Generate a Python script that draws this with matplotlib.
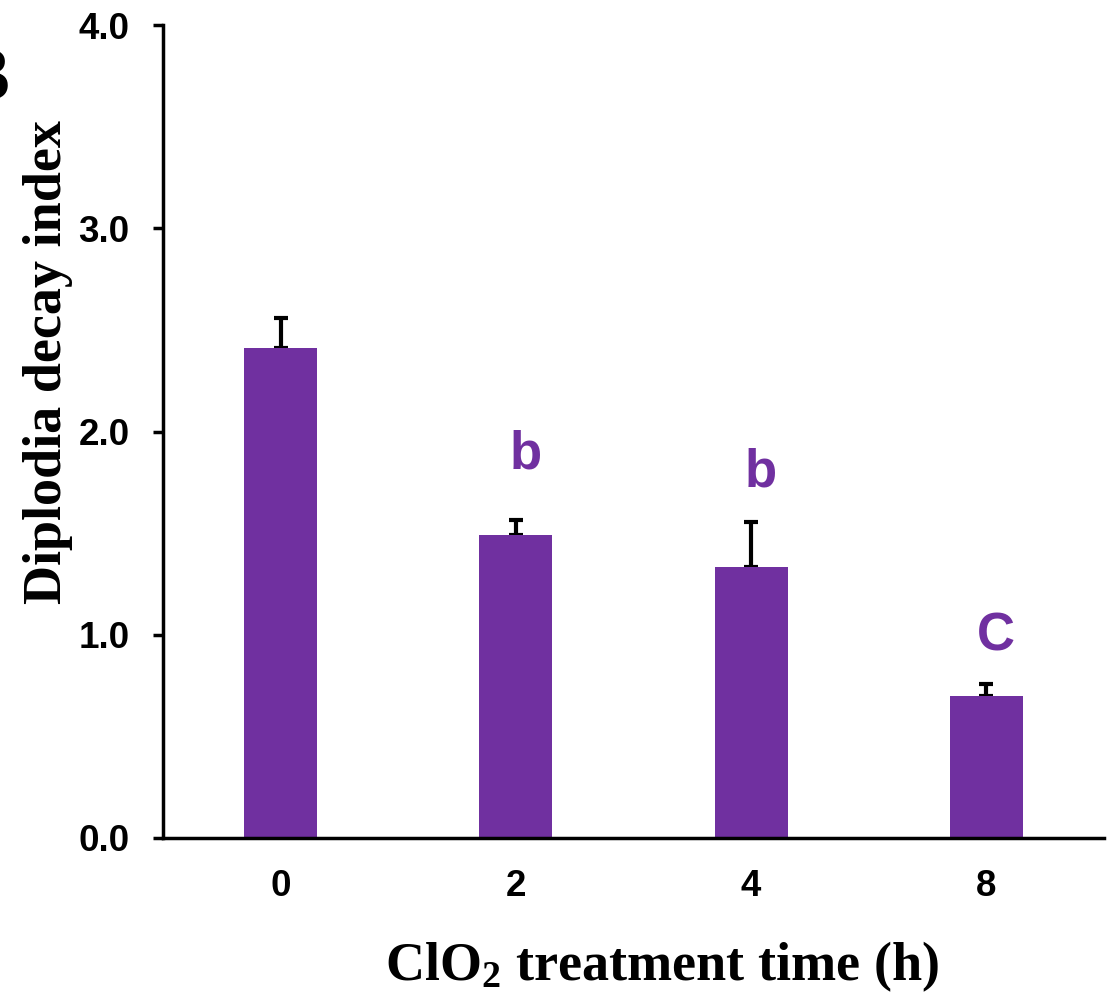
import numpy as np
import matplotlib
matplotlib.use("Agg")
import matplotlib.pyplot as plt

# data
times = ["0", "2", "4", "8"]
decay_index = [2.41, 1.49, 1.335, 0.70]
std_err = [0.15, 0.075, 0.22, 0.06]
letters = ["", "b", "b", "C"]
letter_y = [0.0, 1.82, 1.73, 0.92]

purple = "#7030A0"
plt.rcParams["mathtext.default"] = "regular"

fig = plt.figure(figsize=(11.17, 9.97), dpi=100)
ax = fig.add_axes([0.1459, 0.1595, 0.8425, 0.8154])

x = np.arange(len(times))
ax.bar(x, decay_index, width=0.31, color=purple, zorder=2)
ax.errorbar(x, decay_index, yerr=[np.zeros(len(x)), std_err], fmt="none",
            ecolor="black", elinewidth=3, capsize=5, capthick=3, zorder=1)

for xi, lab, ly in zip(x, letters, letter_y):
    if lab:
        ax.text(xi + 0.04, ly, lab, color=purple, fontsize=38, fontweight="bold",
                family="Liberation Sans", ha="center", va="baseline")

ax.set_xlim(-0.5, 3.5)
ax.set_ylim(0, 4.0)
ax.set_yticks([0, 1, 2, 3, 4])
ax.set_yticklabels(["0.0", "1.0", "2.0", "3.0", "4.0"])
ax.set_xticks(x)
ax.set_xticklabels(times)
for lab in ax.get_xticklabels() + ax.get_yticklabels():
    lab.set_family("Liberation Sans")
    lab.set_fontweight("bold")
    lab.set_fontsize(26.5)

ax.tick_params(axis="y", direction="out", length=7, width=2.5, pad=17)
ax.tick_params(axis="x", length=0, pad=22)

for s in ["top", "right"]:
    ax.spines[s].set_visible(False)
for s in ["left", "bottom"]:
    ax.spines[s].set_linewidth(2.5)

ax.set_ylabel("Diplodia decay index", family="Liberation Serif", fontweight="bold",
              fontsize=39, ha="center", va="center")
ax.yaxis.set_label_coords(-0.122, 0.585)
ax.set_xlabel("ClO$_2$ treatment time (h)", family="Liberation Serif", fontweight="bold",
              fontsize=39, ha="center", va="center")
ax.xaxis.set_label_coords(0.530, -0.158)

fig.text(10 / 1117, 1 - 100 / 997, "B", family="Liberation Sans", fontweight="bold",
         fontsize=53, ha="right", va="baseline")

fig.savefig("out.png", dpi=100)
